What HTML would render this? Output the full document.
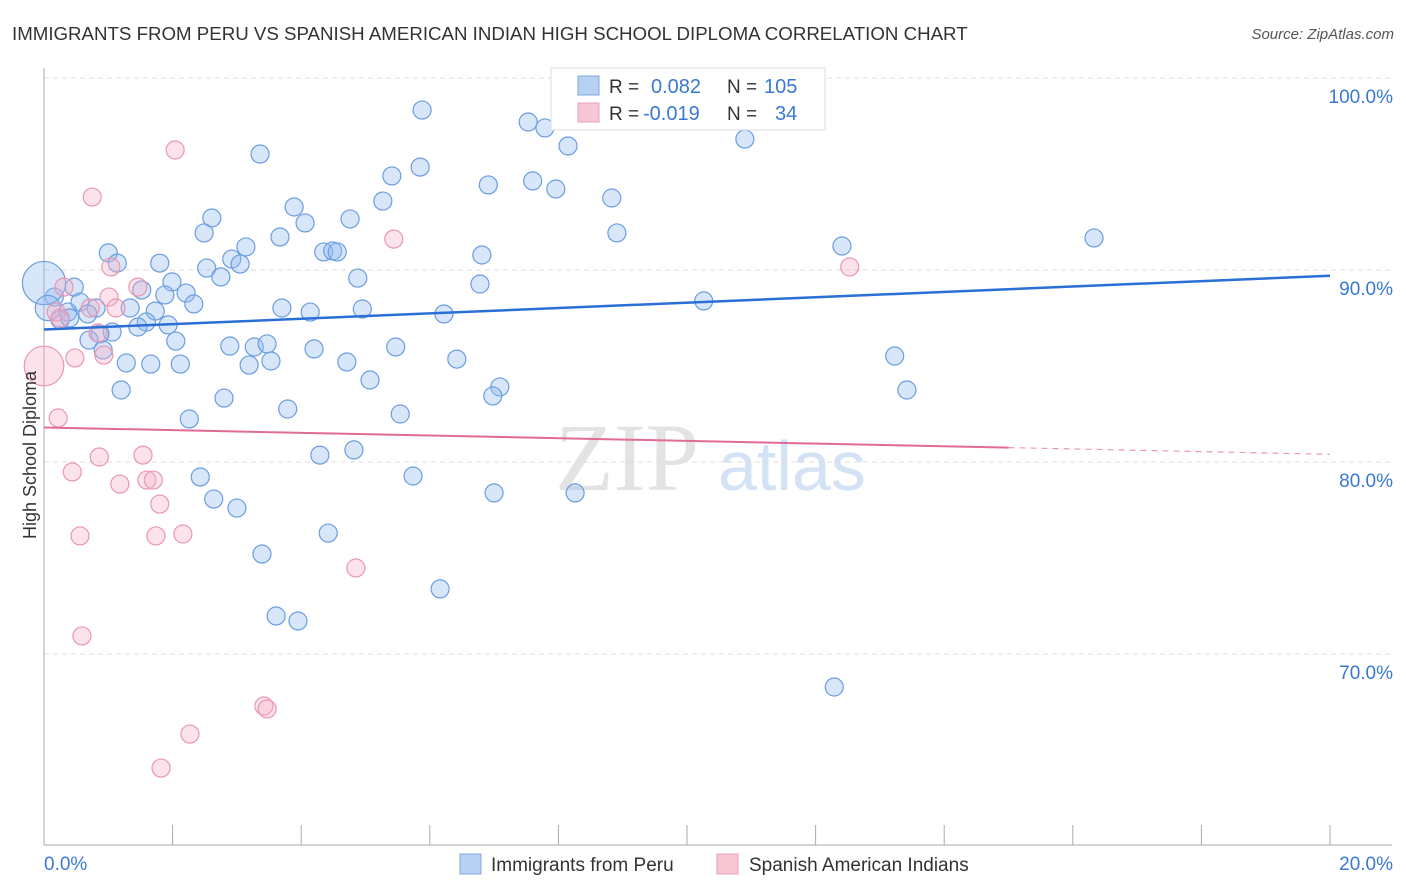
<!DOCTYPE html>
<html><head><meta charset="utf-8"><style>
body{margin:0;background:#fff;font-family:"Liberation Sans",sans-serif;}
svg{display:block}
</style></head><body>
<svg id="c" width="1406" height="892" xmlns="http://www.w3.org/2000/svg">
<text x="12" y="40" font-size="18.7" fill="#333">IMMIGRANTS FROM PERU VS SPANISH AMERICAN INDIAN HIGH SCHOOL DIPLOMA CORRELATION CHART</text>
<text x="1394" y="39" font-size="15" fill="#555" font-style="italic" text-anchor="end">Source: ZipAtlas.com</text>
<g><text x="555" y="490" font-size="96" fill="#e3e3e3" font-family="Liberation Serif">ZIP</text><text x="718" y="490" font-size="70" fill="#d3e2f5">atlas</text></g>
<g id="grid"></g>
<g id="axes"></g>
<g id="pts"></g>
<g id="lines"></g>
<text x="36" y="455" font-size="18" fill="#333" text-anchor="middle" transform="rotate(-90 36 455)">High School Diploma</text>
<g>
<rect x="551" y="68" width="274" height="62" fill="#fff" stroke="#ddd"/>
<rect x="578" y="76" width="21" height="19" fill="#b7d1f3" stroke="#7fa8e0"/>
<rect x="578" y="103" width="21" height="19" fill="#f8c7d6" stroke="#eaa0b8"/>
<text x="609" y="93" font-size="19" fill="#333">R =</text><text x="651" y="93" font-size="20" fill="#3a78d4">0.082</text>
<text x="727" y="93" font-size="19" fill="#333">N =</text><text x="764" y="93" font-size="20" fill="#3a78d4">105</text>
<text x="609" y="120" font-size="19" fill="#333">R =</text><text x="643" y="120" font-size="20" fill="#3a78d4">-0.019</text>
<text x="727" y="120" font-size="19" fill="#333">N =</text><text x="775" y="120" font-size="20" fill="#3a78d4">34</text>
</g>
<g>
<rect x="460" y="854" width="21" height="20" fill="#b7d1f3" stroke="#7fa8e0"/>
<text x="491" y="871" font-size="19" fill="#333">Immigrants from Peru</text>
<rect x="717" y="854" width="21" height="20" fill="#f8c7d6" stroke="#eaa0b8"/>
<text x="749" y="871" font-size="19" fill="#333">Spanish American Indians</text>
</g>
</svg>
<script>
const yTicks=[100,90,80,70];
const yTickLabels=["100.0%","90.0%","80.0%","70.0%"];
const xTickLabels=["0.0%","20.0%"];
const peruX=[5.88,7.53,7.79,8.15,3.36,10.90,5.41,5.85,6.91,7.60,7.96,8.83,5.27,3.89,2.61,4.06,4.76,2.49,8.91,3.67,3.14,4.35,4.49,4.56,6.81,12.41,16.33,1.00,1.14,1.80,2.92,3.05,2.53,2.75,4.88,1.99,6.78,0.47,1.52,2.21,1.88,0.16,0.56,2.33,3.70,4.14,4.95,6.22,10.26,0.81,1.34,1.73,0.37,0.25,1.59,1.93,1.46,1.06,0.87,0.70,0.92,2.05,2.89,3.27,3.47,4.20,5.47,6.42,13.23,1.28,1.66,2.12,3.19,3.53,4.71,5.07,1.20,7.09,6.98,13.42,2.80,3.79,5.54,2.26,4.29,4.82,2.43,5.74,7.00,8.26,2.64,3.00,4.42,3.39,6.16,3.61,3.95,12.29,9.50,0.40,0.68,0.00,0.06];
const peruY=[98.33,97.71,97.40,96.46,96.04,96.82,94.90,95.36,94.43,94.64,94.22,93.75,93.59,93.28,92.71,92.45,92.66,91.93,91.93,91.72,91.20,90.94,90.99,90.94,90.78,91.25,91.67,90.89,90.36,90.36,90.57,90.31,90.10,89.64,89.58,89.38,89.27,89.11,88.96,88.80,88.70,88.59,88.33,88.23,88.02,87.81,87.97,87.71,88.39,88.02,88.02,87.86,87.81,87.40,87.29,87.14,87.03,86.77,86.67,86.35,85.83,86.30,86.04,85.99,86.15,85.89,85.99,85.36,85.52,85.16,85.10,85.10,85.05,85.26,85.21,84.27,83.75,83.91,83.44,83.75,83.33,82.76,82.50,82.24,80.36,80.63,79.22,79.27,78.39,78.39,78.07,77.60,76.30,75.21,73.39,71.98,71.72,68.28,97.92,87.50,87.71,89.32,88.02];
const peruSize=peruX.map((v,i)=>i===101?2.4:(i===102?1.4:1));
const saiX=[2.04,0.75,5.44,1.04,12.53,0.31,1.01,1.46,0.72,1.12,0.84,0.93,0.48,0.00,0.22,0.86,0.44,1.54,1.18,1.60,1.70,1.80,0.56,1.74,2.16,4.85,0.59,3.42,3.47,2.27,1.82,0.19,0.25];
const saiY=[96.25,93.80,91.61,90.16,90.16,89.11,88.59,89.11,88.02,88.02,86.72,85.57,85.42,85.00,82.29,80.26,79.48,80.36,78.85,79.06,79.06,77.81,76.15,76.15,76.25,74.48,70.94,67.29,67.14,65.83,64.06,87.81,87.50];
const saiSize=saiX.map((v,i)=>i===13?2.2:1);
const peruTrend=[86.9,89.7];
const saiTrend=[81.8,80.4];
const saiSolidEnd=15;
const X=v=>44+v/20*1286, Y=v=>78+(100-v)*19.2;
const NS="http://www.w3.org/2000/svg";
function mk(tag,attrs,parent){const e=document.createElementNS(NS,tag);for(const k in attrs)e.setAttribute(k,attrs[k]);document.getElementById(parent).appendChild(e);return e;}
yTicks.forEach((t,i)=>{
 const g=mk('line',{x1:44,x2:1392,y1:Y(t),y2:Y(t),stroke:'#ddd','stroke-dasharray':'5,4'},'grid');
 
 
 const l=mk('text',{x:1393,y:Y(t)+25,'font-size':19,fill:'#3a78d4','text-anchor':'end'},'axes');
 l.textContent=yTickLabels[i];
 
 
});
const ax=mk('line',{x1:44,x2:44,y1:68,y2:845,stroke:'#aaa'},'axes');


const bx=mk('line',{x1:44,x2:1392,y1:845,y2:845,stroke:'#aaa'},'axes');


for(let i=0;i<=10;i++){
 const t=mk('line',{x1:X(i*2),x2:X(i*2),y1:825,y2:845,stroke:'#aaa'},'axes');
 
 
}
[[0,'start',44],[20,'end',1393]].forEach((a,i)=>{
 const l=mk('text',{x:a[2],y:870,'font-size':19,fill:'#3a78d4','text-anchor':a[1]},'axes');
 l.textContent=xTickLabels[i];
 
 
});
peruX.forEach((v,i)=>{
 const c=mk('circle',{cx:X(v),cy:Y(peruY[i]),r:9*peruSize[i],fill:'rgba(150,188,240,0.38)',stroke:'#6b9de0','stroke-width':1.2},'pts');
 
 
});
saiX.forEach((v,i)=>{
 const c=mk('circle',{cx:X(v),cy:Y(saiY[i]),r:9*saiSize[i],fill:'rgba(246,175,198,0.35)',stroke:'#e897b3','stroke-width':1.2},'pts');
 
 
});
const t1=mk('line',{x1:X(0),y1:Y(peruTrend[0]),x2:X(20),y2:Y(peruTrend[1]),stroke:'#2a6fd6','stroke-width':2.5},'lines');


const sm=saiTrend[0]+(saiTrend[1]-saiTrend[0])*saiSolidEnd/20;
const t2=mk('line',{x1:X(0),y1:Y(saiTrend[0]),x2:X(saiSolidEnd),y2:Y(sm),stroke:'#e26b96','stroke-width':2},'lines');


const t3=mk('line',{x1:X(saiSolidEnd),y1:Y(sm),x2:X(20),y2:Y(saiTrend[1]),stroke:'#e89ab5','stroke-width':1.2,'stroke-dasharray':'6,5'},'lines');


</script>
</body></html>
